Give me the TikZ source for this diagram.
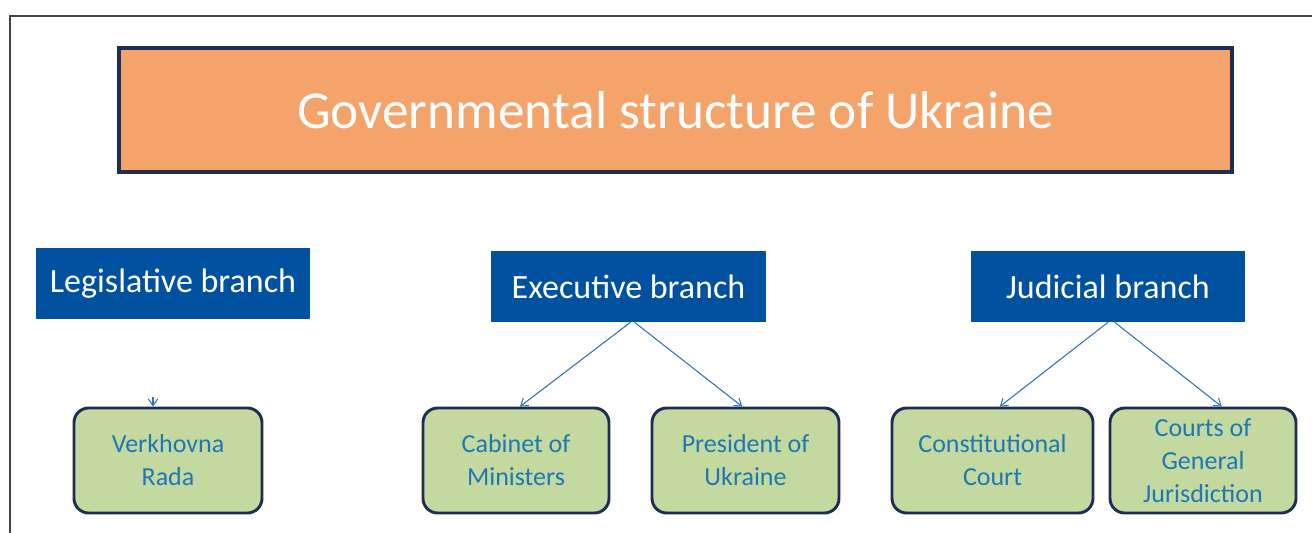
\documentclass[tikz,border=0pt]{standalone}
\usepackage{fontspec}
\setmainfont{Carlito}
\usetikzlibrary{arrows.meta}
\definecolor{titlefill}{HTML}{F4A46A}
\definecolor{navyline}{HTML}{1F2D55}
\definecolor{branchblue}{HTML}{0051A0}
\definecolor{leaffill}{HTML}{C3D9A0}
\definecolor{leaftext}{HTML}{1E78B4}
\definecolor{arrowblue}{HTML}{2F72B8}
\definecolor{framegray}{HTML}{444444}
\tikzset{
  titlebox/.style={draw=navyline, line width=3pt, fill=titlefill, text=white, inner sep=0pt,
    font=\fontsize{40pt}{48pt}\selectfont},
  branchbox/.style={fill=branchblue, text=white, inner sep=0pt, minimum height=53.25pt,
    font=\fontsize{25.5pt}{30pt}\selectfont},
  leafbox/.style={draw=navyline, line width=2.2pt, fill=leaffill, text=leaftext, rounded corners=11pt,
    inner sep=0pt, minimum height=78.75pt, align=center,
    font=\fontsize{19.5pt}{24.75pt}\selectfont},
  conn/.style={draw=arrowblue, line width=0.8pt, -{Straight Barb[length=5pt,width=7pt]}},
}
\begin{document}
\begin{tikzpicture}[x=0.75pt,y=-0.75pt]
\useasboundingbox (0,0) rectangle (1312,532);
% outer frame
\draw[framegray, line width=1.3pt] (10,540) -- (10,16) -- (1320,16);
% title
\node[titlebox, minimum width=834.75pt, minimum height=93pt] (title) at (675.5,110) {Governmental structure of Ukraine};
% branches
\node[branchbox, minimum width=205.5pt] (leg) at (173,283.5) {Legislative branch};
\node[branchbox, minimum width=206.25pt] (exec) at (628.5,286.5) {Executive branch};
\node[branchbox, minimum width=205.5pt] (jud) at (1108,286.5) {Judicial branch};
% leaves
\node[leafbox, minimum width=141pt] (verk) at (168,460.5) {Verkhovna\\Rada};
\node[leafbox, minimum width=139.5pt] (cab) at (516,460.5) {Cabinet of\\Ministers};
\node[leafbox, minimum width=140.25pt] (pres) at (745.5,460.5) {President of\\Ukraine};
\node[leafbox, minimum width=150.75pt] (const) at (992.5,460.5) {Constitutional\\Court};
\node[leafbox, minimum width=139.5pt] (courts) at (1203,460.5) {Courts of\\General\\Jurisdiction};
% connectors
\coordinate (legtip) at (153,397);
\draw[conn] (legtip) -- (legtip |- verk.north);
\draw[conn] ([xshift=1.5pt]exec.south) -- ([xshift=3pt]cab.north);
\draw[conn] ([xshift=4.5pt]exec.south) -- ([xshift=-2.5pt]pres.north);
\draw[conn] (jud.south) -- ([xshift=5.5pt]const.north);
\draw[conn] ([xshift=5pt]jud.south) -- ([xshift=14pt]courts.north);
\end{tikzpicture}
\end{document}
